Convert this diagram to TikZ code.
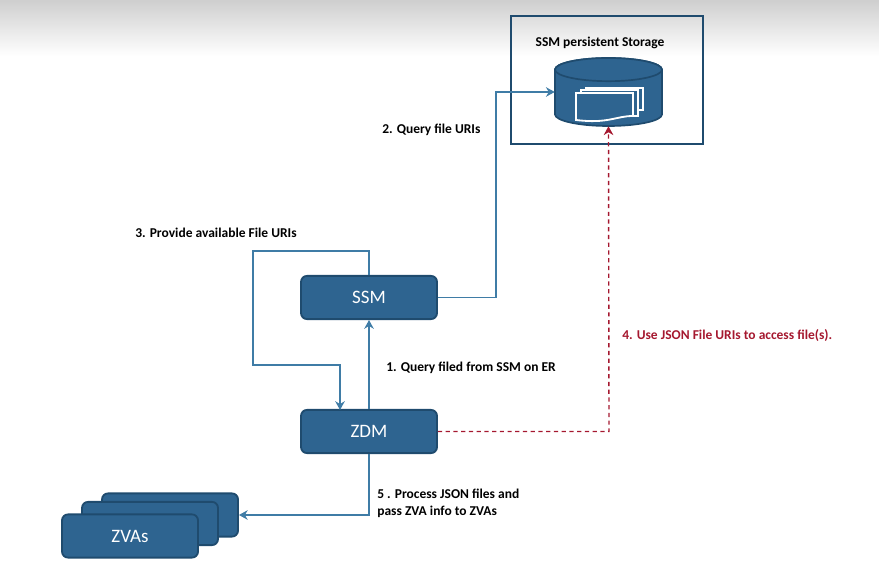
\documentclass[tikz,border=0pt]{standalone}
\usepackage{fontspec}
\setmainfont{Carlito}
\usetikzlibrary{arrows.meta,positioning}
\definecolor{boxfill}{HTML}{2E6490}
\definecolor{boxedge}{HTML}{1F4B6E}
\definecolor{linkblue}{HTML}{3F7CA6}
\definecolor{linkred}{HTML}{A5182F}

\begin{document}
\begin{tikzpicture}[x=1cm,y=1cm]
\tikzset{
  blockbox/.style={rectangle,rounded corners=1.5mm,draw=boxedge,line width=1.3pt,fill=boxfill,text=white,
    minimum width=3.4cm,minimum height=1.08cm,inner sep=1pt,font=\fontsize{13.5}{15}\selectfont},
  stepnote/.style={anchor=west,inner sep=0pt,align=left,font=\fontsize{9.6}{12}\selectfont\bfseries},
  bluelink/.style={-{Stealth[length=2.2mm,width=2.4mm]},draw=linkblue,line width=0.8pt},
  redlink/.style={-{Stealth[length=2.2mm,width=2.4mm]},draw=linkred,line width=1pt,dash pattern=on 3pt off 2.5pt},
  docsheet/.style={draw=white,fill=boxfill,line width=1.3pt},
  drumpart/.style={draw=boxedge,line width=1.2pt,fill=boxfill}
}
\useasboundingbox (0,0) rectangle (21.975,14.5);
\shade[top color=black!19,bottom color=white] (0,13.1) rectangle (21.975,14.5);
\node[draw=boxedge,line width=2pt,minimum width=4.8cm,minimum height=3.2cm,inner sep=0pt] (n_frame) at (15.175,12.5) {};
\node[font=\fontsize{9.6}{11}\selectfont\bfseries,inner sep=0pt] (n_title) at (15.0,13.425) {SSM persistent Storage};
\node[minimum width=2.675cm,minimum height=1.7cm,inner sep=0pt] (n_store) at (15.2125,12.2) {};
\draw[drumpart] (13.875,12.76) -- (13.875,11.64) arc[start angle=180,end angle=360,x radius=1.3375,y radius=0.29]
  -- (16.55,12.76) arc[start angle=0,end angle=180,x radius=1.3375,y radius=0.29] -- cycle;
\draw[drumpart] (15.2125,12.76) ellipse[x radius=1.3375,y radius=0.29];
\draw[docsheet] (14.65,12.3) rectangle (16.075,11.75);
\draw[docsheet] (14.525,12.25) rectangle (15.95,11.6);
\draw[docsheet] (14.4,12.175) -- (15.825,12.175) -- (15.825,11.6) .. controls (15.4,11.6) and (15.2,11.4) .. (14.4,11.5) -- cycle;
\node[blockbox] (n_ssm) at (9.225,7.0625) {SSM};
\node[blockbox] (n_zdm) at (9.225,3.7125) {ZDM};
\node[blockbox] (n_zva3) at (4.25,1.625) {};
\node[blockbox] (n_zva2) at (3.75,1.4125) {};
\node[blockbox] (n_zva1) at (3.25,1.1) {ZVAs};
\coordinate (c_up) at (12.4,12.2);
\coordinate (c_right) at (12.4,7.0625);
\coordinate (c_loop0) at (9.225,8.225);
\coordinate (c_loop1) at (6.325,8.225);
\coordinate (c_loop2) at (6.325,5.375);
\coordinate (c_loop3) at (8.5,5.375);
\coordinate (c_drop) at (8.5,4.25);
\coordinate (c_bend) at (15.225,3.7125);
\coordinate (c_low) at (9.225,1.625);
\draw[bluelink] (n_zdm) -- (n_ssm);
\draw[bluelink] (n_ssm.east) -- (c_right) -- (c_up) -- (n_store.west);
\draw[bluelink] (n_ssm.north) -- (c_loop0) -- (c_loop1) -- (c_loop2) -- (c_loop3) -- (c_drop);
\draw[redlink] (n_zdm.east) -- (c_bend) -- (n_store.south);
\draw[bluelink] (n_zdm.south) -- (c_low) -- (n_zva3.east);
\node[stepnote] (n_note1) at (9.65,5.3) {1. Query filed from SSM on ER};
\node[stepnote] (n_note2) at (9.55,11.25) {2. Query file URIs};
\node[stepnote] (n_note3) at (3.375,8.675) {3. Provide available File URIs};
\node[stepnote,text=linkred] (n_note4) at (15.55,6.1) {4. Use JSON File URIs to access file(s).};
\node[stepnote] (n_note5) at (9.425,1.925) {5 . Process JSON files and\\pass ZVA info to ZVAs};
\end{tikzpicture}
\end{document}
